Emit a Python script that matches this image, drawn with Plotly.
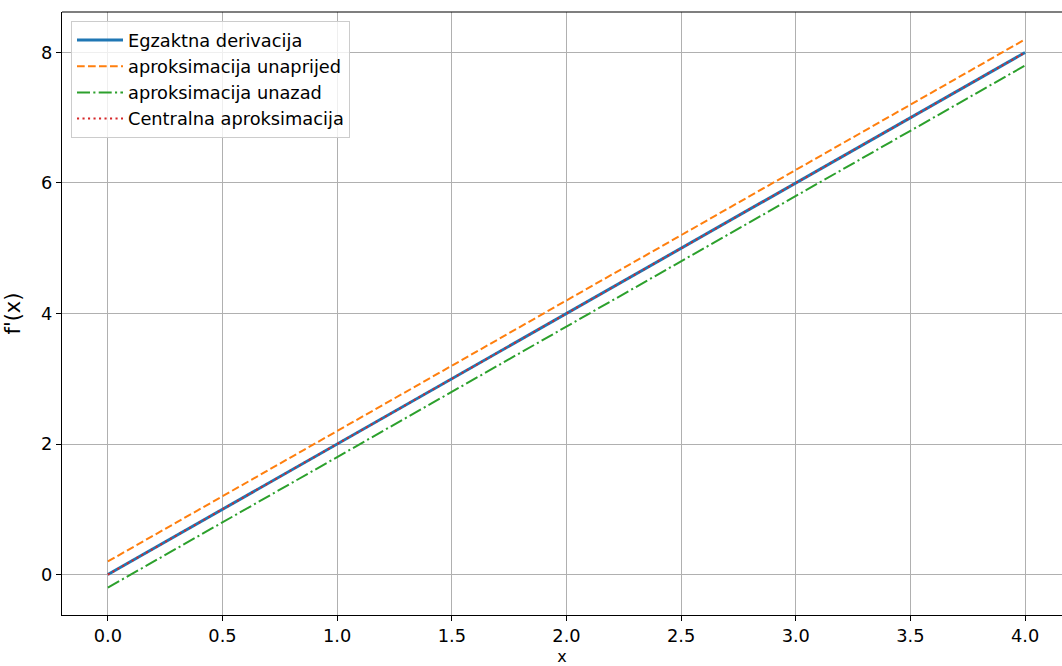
import plotly.graph_objects as go

x_vals = [0.0, 0.5, 1.0, 1.5, 2.0, 2.5, 3.0, 3.5, 4.0]
exact = [0.0, 1.0, 2.0, 3.0, 4.0, 5.0, 6.0, 7.0, 8.0]
forward = [0.2, 1.2, 2.2, 3.2, 4.2, 5.2, 6.2, 7.2, 8.2]
backward = [-0.2, 0.8, 1.8, 2.8, 3.8, 4.8, 5.8, 6.8, 7.8]
central = [0.0, 1.0, 2.0, 3.0, 4.0, 5.0, 6.0, 7.0, 8.0]

names = ["Egzaktna derivacija", "aproksimacija unaprijed",
         "aproksimacija unazad", "Centralna aproksimacija"]
x_ticks = [0.0, 0.5, 1.0, 1.5, 2.0, 2.5, 3.0, 3.5, 4.0]
x_tick_text = ["0.0", "0.5", "1.0", "1.5", "2.0", "2.5", "3.0", "3.5", "4.0"]
y_ticks = [0, 2, 4, 6, 8]

FONT = "DejaVu Sans"
FS = 17.8
fig = go.Figure()
fig.add_trace(go.Scatter(x=x_vals, y=exact, mode="lines", name=names[0],
                         legendgroup="a",
                         line=dict(color="#1f77b4", width=3)))
fig.add_trace(go.Scatter(x=x_vals, y=forward, mode="lines", name=names[1],
                         legendgroup="b",
                         line=dict(color="#ff7f0e", width=2, dash="7.7px,3.3px")))
fig.add_trace(go.Scatter(x=x_vals, y=backward, mode="lines", name=names[2],
                         legendgroup="c",
                         line=dict(color="#2ca02c", width=2,
                                   dash="13px,3.3px,2.1px,3.3px")))
fig.add_trace(go.Scatter(x=x_vals, y=central, mode="lines", name=names[3],
                         legendgroup="d",
                         line=dict(color="#d62728", width=2, dash="2.1px,3.4px")))

fig.update_layout(
    width=1062, height=666,
    margin=dict(l=62, r=0, t=12, b=51, autoexpand=False),
    paper_bgcolor="white", plot_bgcolor="white",
    font=dict(family=FONT, size=FS, color="black"),
    legend=dict(x=0.009, y=0.985, xanchor="left", yanchor="top",
                bgcolor="rgba(255,255,255,0.8)", bordercolor="#cccccc",
                borderwidth=1, font=dict(size=FS), tracegroupgap=4,
                itemwidth=46, traceorder="normal"),
    showlegend=True,
    shapes=[dict(type="line", xref="paper", yref="paper", x0=0, x1=1, y0=1, y1=1,
                 line=dict(color="black", width=1.2))],
)
fig.update_xaxes(range=[-0.2, 4.161], tickvals=x_ticks, ticktext=x_tick_text,
                 automargin=False,
                 showgrid=True, gridcolor="#b0b0b0", gridwidth=1.1,
                 showline=True, linecolor="black", linewidth=1.2,
                 ticks="outside", ticklen=5, tickwidth=1.2, tickcolor="black",
                 zeroline=False,
                 title=dict(text="x", standoff=12, font=dict(size=16)))
fig.update_yaxes(range=[-0.62, 8.62], tickvals=y_ticks, automargin=False,
                 showgrid=True, gridcolor="#b0b0b0", gridwidth=1.1,
                 showline=True, linecolor="black", linewidth=1.2,
                 ticks="outside", ticklen=5, tickwidth=1.2, tickcolor="black",
                 zeroline=False, title=dict(text="f'(x)", standoff=14))

fig.write_html("out.html", config={"displayModeBar": False},
               post_script="document.body.style.margin='0';"
                           "document.body.style.overflow='hidden';")
